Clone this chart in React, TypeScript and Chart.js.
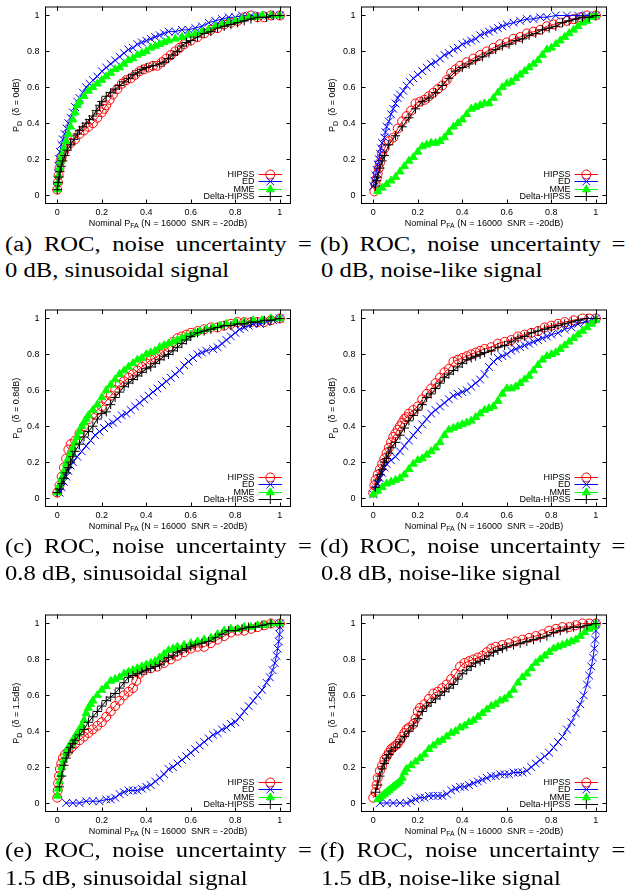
import React, { useEffect, useRef } from 'react';
import { Chart, registerables } from 'chart.js';

Chart.register(...registerables);

type Pt = [number, number];

const TICKS = [0, 0.2, 0.4, 0.6, 0.8, 1];
const SERIES_NAMES = ['HIPSS', 'ED', 'MME', 'Delta-HIPSS'];
const SERIES_COLORS = ['#ff0000', '#0000ff', '#00ff00', '#000000'];
const SERIES_SHAPES = ['circle', 'crossRot', 'triangle', 'cross'];
const SERIES_RADII = [4.5, 5.5, 4.6, 4.6];
const X_TITLE = ['Nominal P', 'FA', ' (N = 16000  SNR = -20dB)'];

// (a) 0 dB, sinusoidal
const HIPSS_A: Pt[] = [[0,0.03],[0.003,0.07],[0.006,0.11],[0.01,0.15],[0.015,0.19],[0.02,0.21],[0.03,0.24],[0.045,0.27],[0.06,0.29],[0.08,0.31],[0.1,0.34],[0.12,0.36],[0.14,0.38],[0.16,0.4],[0.18,0.43],[0.2,0.46],[0.21,0.48],[0.22,0.5],[0.235,0.53],[0.25,0.56],[0.27,0.59],[0.29,0.62],[0.31,0.64],[0.33,0.65],[0.35,0.67],[0.37,0.69],[0.39,0.7],[0.41,0.71],[0.43,0.72],[0.45,0.72],[0.47,0.74],[0.49,0.76],[0.51,0.78],[0.53,0.8],[0.55,0.82],[0.57,0.84],[0.6,0.86],[0.63,0.88],[0.66,0.9],[0.69,0.92],[0.72,0.93],[0.75,0.95],[0.78,0.96],[0.81,0.97],[0.84,0.99],[0.87,1.0],[0.9,0.99],[0.93,0.99],[0.96,1.0],[1,1]];
const ED_A: Pt[] = [[0,0.04],[0.002,0.08],[0.004,0.12],[0.006,0.16],[0.008,0.2],[0.012,0.24],[0.018,0.28],[0.025,0.31],[0.033,0.34],[0.042,0.37],[0.05,0.4],[0.06,0.43],[0.07,0.46],[0.08,0.49],[0.09,0.52],[0.1,0.54],[0.115,0.57],[0.13,0.6],[0.145,0.62],[0.16,0.64],[0.18,0.66],[0.2,0.69],[0.22,0.71],[0.24,0.73],[0.26,0.75],[0.28,0.77],[0.3,0.79],[0.32,0.81],[0.34,0.82],[0.36,0.84],[0.38,0.85],[0.4,0.86],[0.42,0.87],[0.44,0.88],[0.46,0.89],[0.48,0.9],[0.5,0.91],[0.53,0.91],[0.56,0.92],[0.59,0.92],[0.62,0.93],[0.65,0.94],[0.68,0.96],[0.71,0.97],[0.74,0.98],[0.77,0.99],[0.8,0.99],[0.83,1.0],[0.87,1.0],[0.91,1.0],[0.95,1.0],[1,1]];
const MME_A: Pt[] = [[0,0.03],[0.003,0.07],[0.006,0.11],[0.01,0.15],[0.015,0.19],[0.02,0.22],[0.03,0.26],[0.04,0.3],[0.05,0.34],[0.06,0.38],[0.07,0.42],[0.08,0.46],[0.09,0.5],[0.1,0.52],[0.12,0.55],[0.14,0.58],[0.16,0.6],[0.18,0.62],[0.2,0.64],[0.22,0.66],[0.24,0.68],[0.26,0.7],[0.28,0.71],[0.3,0.73],[0.32,0.75],[0.34,0.76],[0.36,0.78],[0.38,0.79],[0.4,0.8],[0.42,0.82],[0.44,0.83],[0.46,0.84],[0.48,0.85],[0.5,0.86],[0.53,0.87],[0.56,0.88],[0.59,0.89],[0.62,0.9],[0.65,0.91],[0.68,0.92],[0.71,0.94],[0.74,0.95],[0.77,0.96],[0.8,0.97],[0.83,0.98],[0.86,0.99],[0.89,0.99],[0.92,1.0],[0.96,1.0],[1,1]];
const DELTA_A: Pt[] = [[0,0.03],[0.004,0.07],[0.008,0.1],[0.012,0.13],[0.018,0.16],[0.025,0.19],[0.035,0.22],[0.045,0.25],[0.06,0.28],[0.075,0.31],[0.09,0.34],[0.1,0.36],[0.115,0.38],[0.13,0.4],[0.145,0.42],[0.16,0.44],[0.175,0.47],[0.19,0.5],[0.2,0.52],[0.22,0.55],[0.24,0.57],[0.26,0.59],[0.28,0.61],[0.3,0.63],[0.32,0.65],[0.34,0.67],[0.36,0.68],[0.38,0.7],[0.4,0.71],[0.43,0.72],[0.46,0.73],[0.48,0.74],[0.5,0.76],[0.52,0.78],[0.54,0.8],[0.56,0.83],[0.58,0.85],[0.6,0.86],[0.63,0.88],[0.66,0.9],[0.69,0.91],[0.72,0.93],[0.75,0.94],[0.78,0.95],[0.81,0.96],[0.84,0.97],[0.87,0.98],[0.9,0.99],[0.94,0.99],[0.97,1.0],[1,1]];

// (b) 0 dB, noise-like
const HIPSS_B: Pt[] = [[0.005,0.02],[0.01,0.06],[0.015,0.09],[0.02,0.12],[0.025,0.15],[0.03,0.18],[0.04,0.23],[0.05,0.26],[0.07,0.3],[0.09,0.32],[0.11,0.37],[0.13,0.41],[0.15,0.44],[0.17,0.47],[0.19,0.51],[0.21,0.52],[0.23,0.53],[0.25,0.55],[0.27,0.57],[0.29,0.59],[0.31,0.61],[0.33,0.64],[0.35,0.68],[0.37,0.7],[0.39,0.72],[0.42,0.74],[0.45,0.76],[0.48,0.78],[0.51,0.8],[0.54,0.82],[0.57,0.84],[0.6,0.85],[0.63,0.87],[0.66,0.88],[0.69,0.9],[0.72,0.91],[0.75,0.92],[0.78,0.94],[0.81,0.95],[0.84,0.96],[0.87,0.97],[0.9,0.98],[0.93,0.99],[0.96,1.0],[1,1]];
const ED_B: Pt[] = [[0,0.05],[0.005,0.08],[0.01,0.11],[0.015,0.14],[0.02,0.17],[0.025,0.2],[0.03,0.23],[0.035,0.26],[0.04,0.29],[0.05,0.32],[0.055,0.35],[0.06,0.38],[0.07,0.41],[0.08,0.45],[0.09,0.48],[0.1,0.51],[0.11,0.54],[0.12,0.56],[0.135,0.58],[0.15,0.61],[0.165,0.63],[0.18,0.65],[0.2,0.67],[0.22,0.69],[0.24,0.71],[0.26,0.73],[0.28,0.74],[0.3,0.76],[0.32,0.78],[0.34,0.79],[0.36,0.81],[0.38,0.82],[0.4,0.84],[0.42,0.85],[0.44,0.86],[0.46,0.87],[0.48,0.89],[0.5,0.9],[0.52,0.91],[0.54,0.92],[0.56,0.93],[0.58,0.94],[0.6,0.95],[0.63,0.96],[0.66,0.97],[0.69,0.98],[0.72,0.98],[0.75,0.99],[0.78,0.99],[0.82,1.0],[0.87,1.0],[0.92,1.0],[0.96,1.0],[1,1]];
const MME_B: Pt[] = [[0.02,0.02],[0.04,0.04],[0.06,0.06],[0.08,0.08],[0.1,0.1],[0.12,0.13],[0.14,0.16],[0.16,0.19],[0.18,0.21],[0.2,0.24],[0.22,0.27],[0.24,0.28],[0.26,0.29],[0.28,0.29],[0.3,0.3],[0.32,0.32],[0.34,0.35],[0.36,0.38],[0.38,0.4],[0.4,0.42],[0.42,0.45],[0.44,0.48],[0.46,0.49],[0.48,0.5],[0.5,0.51],[0.52,0.51],[0.54,0.54],[0.56,0.57],[0.58,0.6],[0.6,0.62],[0.62,0.63],[0.64,0.65],[0.66,0.67],[0.68,0.69],[0.7,0.71],[0.72,0.73],[0.74,0.75],[0.76,0.78],[0.78,0.81],[0.8,0.82],[0.82,0.84],[0.84,0.86],[0.86,0.88],[0.88,0.9],[0.9,0.92],[0.92,0.94],[0.94,0.96],[0.96,0.97],[0.98,0.99],[1,1]];
const DELTA_B: Pt[] = [[0.01,0.05],[0.015,0.08],[0.02,0.1],[0.03,0.15],[0.04,0.19],[0.05,0.22],[0.07,0.28],[0.1,0.33],[0.13,0.38],[0.16,0.43],[0.19,0.48],[0.22,0.52],[0.25,0.54],[0.28,0.57],[0.31,0.61],[0.34,0.65],[0.37,0.69],[0.4,0.71],[0.43,0.73],[0.46,0.75],[0.49,0.77],[0.52,0.79],[0.55,0.81],[0.58,0.83],[0.61,0.84],[0.64,0.86],[0.67,0.87],[0.7,0.89],[0.73,0.9],[0.76,0.92],[0.79,0.93],[0.82,0.94],[0.85,0.96],[0.88,0.97],[0.91,0.98],[0.94,0.99],[0.97,0.99],[1,1]];

// (c) 0.8 dB, sinusoidal
const HIPSS_C: Pt[] = [[0,0.03],[0.01,0.07],[0.02,0.12],[0.03,0.17],[0.04,0.22],[0.05,0.27],[0.06,0.3],[0.08,0.32],[0.1,0.36],[0.12,0.4],[0.14,0.44],[0.16,0.47],[0.18,0.49],[0.2,0.51],[0.22,0.54],[0.24,0.57],[0.26,0.6],[0.28,0.63],[0.3,0.65],[0.32,0.67],[0.34,0.69],[0.36,0.71],[0.38,0.73],[0.4,0.75],[0.42,0.77],[0.44,0.78],[0.46,0.8],[0.48,0.82],[0.5,0.84],[0.52,0.87],[0.54,0.89],[0.56,0.9],[0.58,0.91],[0.6,0.92],[0.63,0.93],[0.66,0.94],[0.69,0.95],[0.72,0.95],[0.75,0.96],[0.78,0.97],[0.81,0.98],[0.84,0.98],[0.87,0.98],[0.9,0.98],[0.93,0.98],[0.96,0.99],[1,1]];
const ED_C: Pt[] = [[0.01,0.03],[0.02,0.06],[0.03,0.09],[0.04,0.12],[0.05,0.15],[0.06,0.18],[0.07,0.2],[0.09,0.23],[0.11,0.26],[0.13,0.29],[0.15,0.32],[0.17,0.35],[0.19,0.37],[0.21,0.39],[0.23,0.41],[0.25,0.42],[0.27,0.44],[0.29,0.46],[0.31,0.47],[0.33,0.49],[0.35,0.51],[0.37,0.53],[0.39,0.55],[0.41,0.57],[0.43,0.59],[0.45,0.61],[0.47,0.63],[0.49,0.65],[0.51,0.67],[0.53,0.69],[0.55,0.71],[0.57,0.74],[0.59,0.76],[0.61,0.78],[0.63,0.8],[0.65,0.81],[0.67,0.82],[0.7,0.83],[0.72,0.84],[0.74,0.86],[0.76,0.88],[0.78,0.9],[0.8,0.92],[0.82,0.94],[0.84,0.95],[0.86,0.96],[0.88,0.97],[0.91,0.97],[0.94,0.98],[0.97,0.99],[1,1]];
const MME_C: Pt[] = [[0,0.03],[0.01,0.07],[0.02,0.11],[0.03,0.15],[0.04,0.19],[0.05,0.22],[0.06,0.25],[0.07,0.28],[0.08,0.31],[0.09,0.34],[0.1,0.37],[0.11,0.4],[0.12,0.42],[0.13,0.44],[0.14,0.46],[0.16,0.49],[0.18,0.52],[0.2,0.56],[0.22,0.6],[0.24,0.63],[0.26,0.66],[0.28,0.69],[0.3,0.71],[0.32,0.73],[0.34,0.75],[0.36,0.77],[0.38,0.78],[0.4,0.8],[0.42,0.81],[0.44,0.82],[0.46,0.84],[0.48,0.85],[0.5,0.86],[0.52,0.87],[0.54,0.88],[0.56,0.89],[0.58,0.9],[0.6,0.91],[0.62,0.92],[0.64,0.93],[0.67,0.94],[0.7,0.95],[0.73,0.96],[0.76,0.97],[0.8,0.98],[0.84,0.98],[0.88,0.99],[0.92,0.99],[0.96,1.0],[1,1]];
const DELTA_C: Pt[] = [[0,0.03],[0.01,0.05],[0.02,0.08],[0.03,0.11],[0.04,0.14],[0.05,0.17],[0.06,0.2],[0.07,0.23],[0.08,0.26],[0.1,0.3],[0.12,0.34],[0.14,0.37],[0.16,0.4],[0.18,0.44],[0.2,0.47],[0.22,0.48],[0.24,0.52],[0.26,0.56],[0.28,0.59],[0.3,0.62],[0.32,0.64],[0.34,0.66],[0.36,0.68],[0.38,0.7],[0.4,0.72],[0.42,0.73],[0.44,0.75],[0.46,0.77],[0.48,0.79],[0.5,0.8],[0.52,0.82],[0.54,0.84],[0.56,0.86],[0.58,0.88],[0.6,0.9],[0.63,0.92],[0.66,0.93],[0.69,0.94],[0.72,0.95],[0.75,0.96],[0.78,0.96],[0.81,0.97],[0.84,0.97],[0.87,0.98],[0.9,0.98],[0.93,0.99],[0.96,0.99],[1,1]];

// (d) 0.8 dB, noise-like
const HIPSS_D: Pt[] = [[0,0.03],[0.005,0.07],[0.01,0.1],[0.02,0.13],[0.03,0.16],[0.04,0.19],[0.05,0.22],[0.06,0.25],[0.07,0.28],[0.08,0.31],[0.09,0.34],[0.1,0.36],[0.11,0.38],[0.12,0.4],[0.13,0.42],[0.14,0.44],[0.15,0.45],[0.16,0.47],[0.18,0.49],[0.2,0.51],[0.22,0.55],[0.24,0.58],[0.26,0.61],[0.28,0.64],[0.3,0.67],[0.32,0.7],[0.34,0.72],[0.36,0.76],[0.38,0.77],[0.4,0.78],[0.42,0.79],[0.44,0.8],[0.46,0.81],[0.48,0.82],[0.5,0.83],[0.53,0.84],[0.56,0.86],[0.59,0.87],[0.62,0.88],[0.65,0.9],[0.68,0.91],[0.71,0.92],[0.74,0.93],[0.77,0.95],[0.8,0.96],[0.83,0.97],[0.86,0.98],[0.9,0.99],[0.94,1.0],[0.97,1.0],[1,1]];
const ED_D: Pt[] = [[0,0.02],[0.01,0.05],[0.02,0.08],[0.03,0.11],[0.04,0.14],[0.05,0.17],[0.06,0.19],[0.08,0.21],[0.1,0.23],[0.12,0.26],[0.14,0.29],[0.16,0.32],[0.18,0.35],[0.2,0.38],[0.22,0.41],[0.24,0.44],[0.26,0.47],[0.28,0.49],[0.3,0.51],[0.32,0.53],[0.34,0.55],[0.36,0.57],[0.38,0.58],[0.4,0.59],[0.42,0.6],[0.44,0.62],[0.46,0.64],[0.48,0.66],[0.5,0.69],[0.52,0.73],[0.54,0.76],[0.56,0.78],[0.58,0.79],[0.6,0.8],[0.62,0.82],[0.64,0.83],[0.66,0.84],[0.68,0.85],[0.7,0.86],[0.72,0.87],[0.74,0.88],[0.76,0.89],[0.78,0.9],[0.8,0.91],[0.83,0.92],[0.86,0.94],[0.89,0.95],[0.92,0.97],[0.95,0.98],[0.98,0.99],[1,1]];
const MME_D: Pt[] = [[0,0.02],[0.02,0.04],[0.04,0.06],[0.06,0.08],[0.08,0.09],[0.1,0.1],[0.12,0.11],[0.14,0.13],[0.16,0.16],[0.18,0.19],[0.2,0.21],[0.22,0.22],[0.24,0.24],[0.26,0.26],[0.28,0.28],[0.3,0.31],[0.32,0.35],[0.34,0.38],[0.36,0.39],[0.38,0.4],[0.4,0.41],[0.42,0.42],[0.44,0.43],[0.46,0.45],[0.48,0.47],[0.5,0.49],[0.52,0.5],[0.54,0.51],[0.56,0.54],[0.58,0.58],[0.6,0.61],[0.62,0.61],[0.64,0.62],[0.66,0.64],[0.68,0.66],[0.7,0.68],[0.72,0.71],[0.74,0.74],[0.76,0.77],[0.78,0.79],[0.8,0.8],[0.82,0.81],[0.84,0.83],[0.86,0.85],[0.88,0.87],[0.9,0.89],[0.92,0.91],[0.94,0.93],[0.96,0.95],[0.98,0.97],[1,0.99]];
const DELTA_D: Pt[] = [[0.01,0.06],[0.02,0.1],[0.03,0.13],[0.04,0.16],[0.05,0.2],[0.06,0.22],[0.07,0.25],[0.08,0.28],[0.1,0.31],[0.12,0.35],[0.14,0.39],[0.16,0.43],[0.18,0.46],[0.2,0.49],[0.22,0.52],[0.24,0.56],[0.26,0.58],[0.28,0.61],[0.3,0.64],[0.32,0.67],[0.34,0.69],[0.36,0.71],[0.38,0.73],[0.4,0.75],[0.42,0.77],[0.44,0.78],[0.46,0.79],[0.48,0.8],[0.5,0.81],[0.53,0.82],[0.56,0.84],[0.59,0.85],[0.62,0.87],[0.65,0.89],[0.68,0.9],[0.71,0.92],[0.74,0.93],[0.77,0.94],[0.8,0.95],[0.83,0.96],[0.86,0.97],[0.89,0.98],[0.92,0.99],[0.96,1.0],[1,1]];

// (e) 1.5 dB, sinusoidal
const HIPSS_E: Pt[] = [[0,0.03],[0.002,0.07],[0.004,0.11],[0.008,0.15],[0.012,0.19],[0.018,0.22],[0.025,0.25],[0.035,0.27],[0.05,0.29],[0.065,0.31],[0.08,0.33],[0.1,0.35],[0.12,0.37],[0.14,0.39],[0.16,0.41],[0.18,0.43],[0.2,0.45],[0.22,0.48],[0.24,0.51],[0.26,0.54],[0.28,0.57],[0.3,0.6],[0.32,0.62],[0.34,0.64],[0.355,0.68],[0.37,0.72],[0.39,0.74],[0.42,0.75],[0.45,0.76],[0.48,0.78],[0.51,0.8],[0.54,0.82],[0.57,0.84],[0.6,0.86],[0.63,0.87],[0.66,0.87],[0.69,0.89],[0.72,0.91],[0.75,0.93],[0.78,0.95],[0.81,0.96],[0.84,0.96],[0.87,0.97],[0.9,0.98],[0.93,0.99],[0.96,1.0],[1,1]];
const ED_E: Pt[] = [[0.04,0.0],[0.07,0.0],[0.1,0.0],[0.13,0.01],[0.16,0.01],[0.19,0.01],[0.22,0.02],[0.24,0.02],[0.26,0.03],[0.28,0.05],[0.3,0.06],[0.32,0.07],[0.34,0.07],[0.36,0.07],[0.38,0.08],[0.4,0.09],[0.42,0.1],[0.44,0.12],[0.46,0.14],[0.48,0.16],[0.5,0.19],[0.52,0.2],[0.54,0.22],[0.56,0.24],[0.58,0.26],[0.6,0.28],[0.62,0.3],[0.64,0.32],[0.66,0.34],[0.68,0.36],[0.7,0.38],[0.72,0.39],[0.74,0.41],[0.76,0.42],[0.78,0.44],[0.8,0.45],[0.82,0.48],[0.84,0.51],[0.86,0.54],[0.88,0.57],[0.9,0.6],[0.92,0.63],[0.94,0.67],[0.955,0.7],[0.967,0.74],[0.977,0.78],[0.985,0.82],[0.99,0.86],[0.995,0.9],[0.998,0.94],[1,0.98],[1,1]];
const MME_E: Pt[] = [[0,0.04],[0.005,0.08],[0.01,0.12],[0.015,0.16],[0.02,0.2],[0.03,0.24],[0.04,0.28],[0.05,0.31],[0.06,0.33],[0.07,0.35],[0.08,0.37],[0.09,0.39],[0.1,0.41],[0.11,0.43],[0.12,0.46],[0.13,0.5],[0.14,0.53],[0.15,0.55],[0.16,0.57],[0.18,0.6],[0.2,0.63],[0.22,0.65],[0.24,0.68],[0.26,0.69],[0.28,0.7],[0.3,0.72],[0.32,0.73],[0.34,0.74],[0.36,0.75],[0.38,0.76],[0.4,0.77],[0.42,0.78],[0.44,0.79],[0.46,0.81],[0.48,0.83],[0.5,0.85],[0.52,0.86],[0.54,0.87],[0.57,0.88],[0.6,0.89],[0.63,0.9],[0.66,0.91],[0.69,0.92],[0.72,0.94],[0.75,0.96],[0.78,0.97],[0.81,0.97],[0.84,0.98],[0.87,0.98],[0.9,0.99],[0.93,0.99],[0.96,1.0],[1,1]];
const DELTA_E: Pt[] = [[0.01,0.09],[0.02,0.15],[0.03,0.21],[0.04,0.25],[0.05,0.28],[0.06,0.31],[0.07,0.33],[0.08,0.35],[0.1,0.38],[0.12,0.41],[0.14,0.45],[0.16,0.48],[0.18,0.51],[0.2,0.54],[0.22,0.57],[0.24,0.59],[0.26,0.61],[0.28,0.64],[0.3,0.67],[0.32,0.7],[0.34,0.71],[0.36,0.72],[0.38,0.73],[0.4,0.74],[0.42,0.75],[0.44,0.76],[0.46,0.77],[0.48,0.79],[0.5,0.81],[0.52,0.82],[0.54,0.84],[0.56,0.85],[0.58,0.86],[0.6,0.87],[0.62,0.88],[0.65,0.89],[0.68,0.9],[0.71,0.92],[0.74,0.94],[0.77,0.96],[0.8,0.96],[0.83,0.97],[0.86,0.98],[0.89,0.98],[0.92,0.99],[0.96,1.0],[1,1]];

// (f) 1.5 dB, noise-like
const HIPSS_F: Pt[] = [[0,0.03],[0.01,0.06],[0.015,0.1],[0.02,0.14],[0.03,0.18],[0.04,0.21],[0.05,0.24],[0.06,0.26],[0.07,0.28],[0.08,0.3],[0.09,0.31],[0.1,0.32],[0.11,0.33],[0.12,0.35],[0.13,0.37],[0.14,0.39],[0.15,0.41],[0.16,0.42],[0.18,0.44],[0.19,0.47],[0.2,0.51],[0.21,0.53],[0.23,0.55],[0.25,0.58],[0.27,0.61],[0.29,0.62],[0.31,0.64],[0.33,0.66],[0.35,0.69],[0.37,0.72],[0.39,0.76],[0.41,0.78],[0.43,0.79],[0.45,0.8],[0.47,0.81],[0.49,0.82],[0.51,0.84],[0.53,0.86],[0.55,0.87],[0.58,0.88],[0.61,0.89],[0.64,0.9],[0.67,0.91],[0.7,0.92],[0.73,0.93],[0.76,0.94],[0.79,0.96],[0.82,0.97],[0.85,0.98],[0.88,0.98],[0.91,0.99],[0.94,1.0],[0.97,1.0],[1,1]];
const ED_F: Pt[] = [[0.03,0.0],[0.06,0.0],[0.09,0.0],[0.12,0.0],[0.15,0.0],[0.17,0.01],[0.19,0.02],[0.21,0.03],[0.23,0.03],[0.25,0.04],[0.27,0.04],[0.29,0.04],[0.31,0.04],[0.33,0.05],[0.35,0.07],[0.37,0.08],[0.39,0.09],[0.41,0.09],[0.43,0.1],[0.45,0.11],[0.47,0.12],[0.49,0.13],[0.51,0.14],[0.53,0.15],[0.55,0.15],[0.57,0.16],[0.59,0.16],[0.61,0.16],[0.63,0.17],[0.65,0.17],[0.67,0.17],[0.69,0.18],[0.71,0.2],[0.73,0.22],[0.75,0.24],[0.77,0.26],[0.79,0.28],[0.81,0.31],[0.83,0.34],[0.85,0.37],[0.87,0.41],[0.89,0.45],[0.91,0.5],[0.93,0.55],[0.945,0.6],[0.96,0.66],[0.97,0.71],[0.98,0.76],[0.987,0.81],[0.993,0.86],[0.997,0.91],[1,0.96],[1,1]];
const MME_F: Pt[] = [[0.02,0.02],[0.03,0.03],[0.04,0.04],[0.05,0.05],[0.06,0.06],[0.07,0.07],[0.08,0.08],[0.09,0.09],[0.1,0.1],[0.11,0.11],[0.12,0.12],[0.13,0.14],[0.14,0.17],[0.15,0.19],[0.17,0.21],[0.19,0.23],[0.21,0.25],[0.23,0.27],[0.25,0.3],[0.27,0.32],[0.29,0.34],[0.31,0.35],[0.33,0.37],[0.35,0.39],[0.37,0.4],[0.39,0.42],[0.41,0.43],[0.43,0.45],[0.45,0.46],[0.47,0.48],[0.49,0.5],[0.51,0.52],[0.53,0.54],[0.55,0.55],[0.57,0.57],[0.59,0.58],[0.61,0.6],[0.63,0.63],[0.65,0.67],[0.67,0.7],[0.69,0.72],[0.71,0.75],[0.73,0.78],[0.75,0.8],[0.77,0.82],[0.79,0.84],[0.81,0.86],[0.83,0.87],[0.85,0.88],[0.87,0.89],[0.89,0.9],[0.91,0.91],[0.93,0.93],[0.95,0.95],[0.97,0.97],[0.99,0.98],[1,1]];
const DELTA_F: Pt[] = [[0.01,0.06],[0.02,0.1],[0.03,0.15],[0.04,0.19],[0.05,0.22],[0.06,0.25],[0.07,0.27],[0.08,0.29],[0.1,0.31],[0.12,0.34],[0.14,0.37],[0.16,0.4],[0.18,0.43],[0.2,0.47],[0.22,0.51],[0.24,0.54],[0.26,0.56],[0.28,0.58],[0.3,0.6],[0.32,0.62],[0.34,0.64],[0.36,0.66],[0.38,0.69],[0.4,0.72],[0.42,0.74],[0.44,0.76],[0.46,0.78],[0.48,0.79],[0.5,0.8],[0.52,0.82],[0.54,0.84],[0.56,0.85],[0.58,0.86],[0.6,0.87],[0.63,0.88],[0.66,0.89],[0.69,0.9],[0.72,0.91],[0.75,0.92],[0.78,0.93],[0.81,0.95],[0.84,0.96],[0.87,0.97],[0.9,0.98],[0.93,0.98],[0.96,0.99],[1,1]];

const DELTAS = ['0dB', '0dB', '0.8dB', '0.8dB', '1.5dB', '1.5dB'];
const CAPTION_1 = [
  '(a) ROC, noise uncertainty =',
  '(b) ROC, noise uncertainty =',
  '(c) ROC, noise uncertainty =',
  '(d) ROC, noise uncertainty =',
  '(e) ROC, noise uncertainty =',
  '(f) ROC, noise uncertainty =',
];
const CAPTION_2 = [
  '0 dB, sinusoidal signal',
  '0 dB, noise-like signal',
  '0.8 dB, sinusoidal signal',
  '0.8 dB, noise-like signal',
  '1.5 dB, sinusoidal signal',
  '1.5 dB, noise-like signal',
];
const PANEL_SERIES: Pt[][][] = [
  [HIPSS_A, ED_A, MME_A, DELTA_A],
  [HIPSS_B, ED_B, MME_B, DELTA_B],
  [HIPSS_C, ED_C, MME_C, DELTA_C],
  [HIPSS_D, ED_D, MME_D, DELTA_D],
  [HIPSS_E, ED_E, MME_E, DELTA_E],
  [HIPSS_F, ED_F, MME_F, DELTA_F],
];

// layout (pixels)
const SANS = '"Liberation Sans", Arial, sans-serif';
const SERIF = '"Liberation Serif", "Times New Roman", serif';
const COL_LEFT = [0, 316];
const ROW_TOP = [0, 303, 608];
const CANVAS_W = 300;
const CANVAS_H = 232;
const CAP_LINE1_BASE = [250.7, 553.3, 856.7];
const CAP_LINE2_BASE = [277.3, 580.0, 884.7];
const CAP_LEFT_1 = [4.5, 319.5];
const CAP_LEFT_2 = [4.5, 321];
const CAP_WIDTH = [307, 305.5];
const CAP_SCALE = 1.2;
const CAP_FONT = 20.5;
const CAP_LH = 24;

type Part = { t: string; sub?: boolean };

function drawRich(ctx: CanvasRenderingContext2D, parts: Part[], cx: number, base: number) {
  const big = `9px ${SANS}`;
  const small = `7px ${SANS}`;
  const widths = parts.map((p) => {
    ctx.font = p.sub ? small : big;
    return ctx.measureText(p.t).width;
  });
  const total = widths.reduce((a, b) => a + b, 0);
  let x = cx - total / 2;
  ctx.textAlign = 'left';
  ctx.textBaseline = 'alphabetic';
  parts.forEach((p, i) => {
    ctx.font = p.sub ? small : big;
    ctx.fillText(p.t, x, base + (p.sub ? 2.5 : 0));
    x += widths[i];
  });
}

function drawMarker(ctx: CanvasRenderingContext2D, shape: string, x: number, y: number, r: number, color: string) {
  ctx.save();
  ctx.strokeStyle = color;
  ctx.fillStyle = color;
  ctx.lineWidth = 1;
  ctx.beginPath();
  if (shape === 'circle') {
    ctx.arc(x, y, r, 0, Math.PI * 2);
    ctx.stroke();
  } else if (shape === 'crossRot') {
    const d = r * Math.SQRT1_2;
    ctx.moveTo(x - d, y - d); ctx.lineTo(x + d, y + d);
    ctx.moveTo(x - d, y + d); ctx.lineTo(x + d, y - d);
    ctx.stroke();
  } else if (shape === 'triangle') {
    const w = r * Math.sin(Math.PI / 3);
    ctx.moveTo(x, y - r);
    ctx.lineTo(x + w, y + r / 2);
    ctx.lineTo(x - w, y + r / 2);
    ctx.closePath();
    ctx.fill();
    ctx.stroke();
  } else {
    ctx.moveTo(x - r, y); ctx.lineTo(x + r, y);
    ctx.moveTo(x, y - r); ctx.lineTo(x, y + r);
    ctx.stroke();
  }
  ctx.restore();
}

function makeDecorPlugin(delta: string) {
  return {
    id: 'gnuplotDecor',
    afterDatasetsDraw(chart: any) {
      const ctx: CanvasRenderingContext2D = chart.ctx;
      const a = chart.chartArea;
      const xs = chart.scales.x;
      const ys = chart.scales.y;
      ctx.save();
      // frame
      ctx.strokeStyle = '#000';
      ctx.lineWidth = 1;
      ctx.strokeRect(a.left + 0.5, a.top + 0.5, a.right - a.left - 1, a.bottom - a.top - 1);
      // inner mirrored ticks
      const TL = 4.5;
      ctx.beginPath();
      TICKS.forEach((v) => {
        const py = Math.round(ys.getPixelForValue(v)) + 0.5;
        ctx.moveTo(a.left, py); ctx.lineTo(a.left + TL, py);
        ctx.moveTo(a.right, py); ctx.lineTo(a.right - TL, py);
        const px = Math.round(xs.getPixelForValue(v)) + 0.5;
        ctx.moveTo(px, a.bottom); ctx.lineTo(px, a.bottom - TL);
        ctx.moveTo(px, a.top); ctx.lineTo(px, a.top + TL);
      });
      ctx.stroke();

      // legend (bottom right, inside)
      const rowGap = 7.6;
      chart.data.datasets.forEach((ds: any, i: number) => {
        const y = a.bottom - 7.6 - (3 - i) * rowGap;
        ctx.fillStyle = '#000';
        ctx.font = `9px ${SANS}`;
        ctx.textAlign = 'right';
        ctx.textBaseline = 'middle';
        ctx.fillText(ds.label, a.right - 36.5, y + 0.5);
        const color = SERIES_COLORS[i];
        ctx.strokeStyle = color;
        ctx.lineWidth = 1;
        ctx.beginPath();
        ctx.moveTo(a.right - 32.5, Math.round(y) + 0.5);
        ctx.lineTo(a.right - 9, Math.round(y) + 0.5);
        ctx.stroke();
        drawMarker(ctx, SERIES_SHAPES[i], a.right - 20.7, Math.round(y) + 0.5, SERIES_RADII[i], color);
      });

      // axis titles
      ctx.fillStyle = '#000';
      const cx = (a.left + a.right) / 2;
      drawRich(ctx, [{ t: X_TITLE[0] }, { t: X_TITLE[1], sub: true }, { t: X_TITLE[2] }], cx, a.bottom + 21.5);
      ctx.save();
      ctx.translate(a.left - 25.7, (a.top + a.bottom) / 2);
      ctx.rotate(-Math.PI / 2);
      drawRich(ctx, [{ t: 'P' }, { t: 'D', sub: true }, { t: `  (\u03b4 = ${delta})` }], 0, 0);
      ctx.restore();
      ctx.restore();
    },
  };
}

function fixScale(size: number, horizontal: boolean) {
  return (s: any) => {
    if (horizontal) s.height = size; else s.width = size;
    s.paddingLeft = 0; s.paddingRight = 0; s.paddingTop = 0; s.paddingBottom = 0;
  };
}

function RocPanel({ index }: { index: number }) {
  const ref = useRef<HTMLCanvasElement | null>(null);
  useEffect(() => {
    const canvas = ref.current;
    if (!canvas) return;
    const series = PANEL_SERIES[index];
    const chart = new Chart(canvas, {
      type: 'line',
      data: {
        datasets: series.map((pts, i) => ({
          label: SERIES_NAMES[i],
          data: pts.map(([x, y]) => ({ x, y })),
          borderColor: SERIES_COLORS[i],
          borderWidth: 1,
          pointStyle: SERIES_SHAPES[i] as any,
          pointRadius: SERIES_RADII[i],
          pointBorderColor: SERIES_COLORS[i],
          pointBackgroundColor: SERIES_SHAPES[i] === 'triangle' ? SERIES_COLORS[i] : 'rgba(0,0,0,0)',
          pointBorderWidth: 1,
          fill: false,
          tension: 0,
          order: 4 - i,
        })),
      },
      options: {
        animation: false,
        responsive: false,
        maintainAspectRatio: false,
        devicePixelRatio: 1,
        events: [],
        layout: { padding: { top: 4, right: CANVAS_W - 291, bottom: 0, left: 0 } },
        plugins: { legend: { display: false }, tooltip: { enabled: false }, title: { display: false } },
        scales: {
          x: {
            type: 'linear',
            min: -0.055,
            max: 1.05,
            grid: { display: false, drawTicks: false },
            border: { display: false },
            ticks: {
              font: { family: SANS, size: 9 },
              color: '#000',
              padding: 3.5,
              maxRotation: 0,
              autoSkip: false,
              callback: (v: any) => String(v),
            },
            afterBuildTicks: (s: any) => { s.ticks = TICKS.map((value) => ({ value })); },
            afterFit: fixScale(CANVAS_H - 204, true),
          },
          y: {
            type: 'linear',
            min: -0.05,
            max: 1.05,
            grid: { display: false, drawTicks: false },
            border: { display: false },
            ticks: {
              font: { family: SANS, size: 9 },
              color: '#000',
              padding: 5.5,
              autoSkip: false,
              callback: (v: any) => String(v),
            },
            afterBuildTicks: (s: any) => { s.ticks = TICKS.map((value) => ({ value })); },
            afterFit: fixScale(45, false),
          },
        },
      } as any,
      plugins: [makeDecorPlugin(DELTAS[index])],
    });
    return () => chart.destroy();
  }, [index]);

  const col = index % 2;
  const row = Math.floor(index / 2);
  const capBase: React.CSSProperties = {
    position: 'absolute',
    fontFamily: SERIF,
    fontSize: CAP_FONT,
    lineHeight: `${CAP_LH}px`,
    whiteSpace: 'nowrap',
    color: '#000',
    transform: `scaleX(${CAP_SCALE})`,
    transformOrigin: '0 0',
  };
  const baseOffset = (CAP_LH - 1.107 * CAP_FONT) / 2 + 0.891 * CAP_FONT;
  return (
    <>
      <canvas
        ref={ref}
        width={CANVAS_W}
        height={CANVAS_H}
        style={{ position: 'absolute', left: COL_LEFT[col], top: ROW_TOP[row], width: CANVAS_W, height: CANVAS_H, display: 'block' }}
      />
      <div
        style={{
          ...capBase,
          left: CAP_LEFT_1[col],
          top: CAP_LINE1_BASE[row] - baseOffset,
          width: CAP_WIDTH[col] / CAP_SCALE,
          textAlign: 'justify',
          textAlignLast: 'justify' as any,
        }}
      >
        {CAPTION_1[index]}
      </div>
      <div style={{ ...capBase, left: CAP_LEFT_2[col], top: CAP_LINE2_BASE[row] - baseOffset }}>
        {CAPTION_2[index]}
      </div>
    </>
  );
}

export default function App() {
  return (
    <div style={{ position: 'absolute', left: 0, top: 0, width: 628, height: 894, background: '#fff', overflow: 'hidden' }}>
      {[0, 1, 2, 3, 4, 5].map((i) => (
        <RocPanel key={i} index={i} />
      ))}
    </div>
  );
}
